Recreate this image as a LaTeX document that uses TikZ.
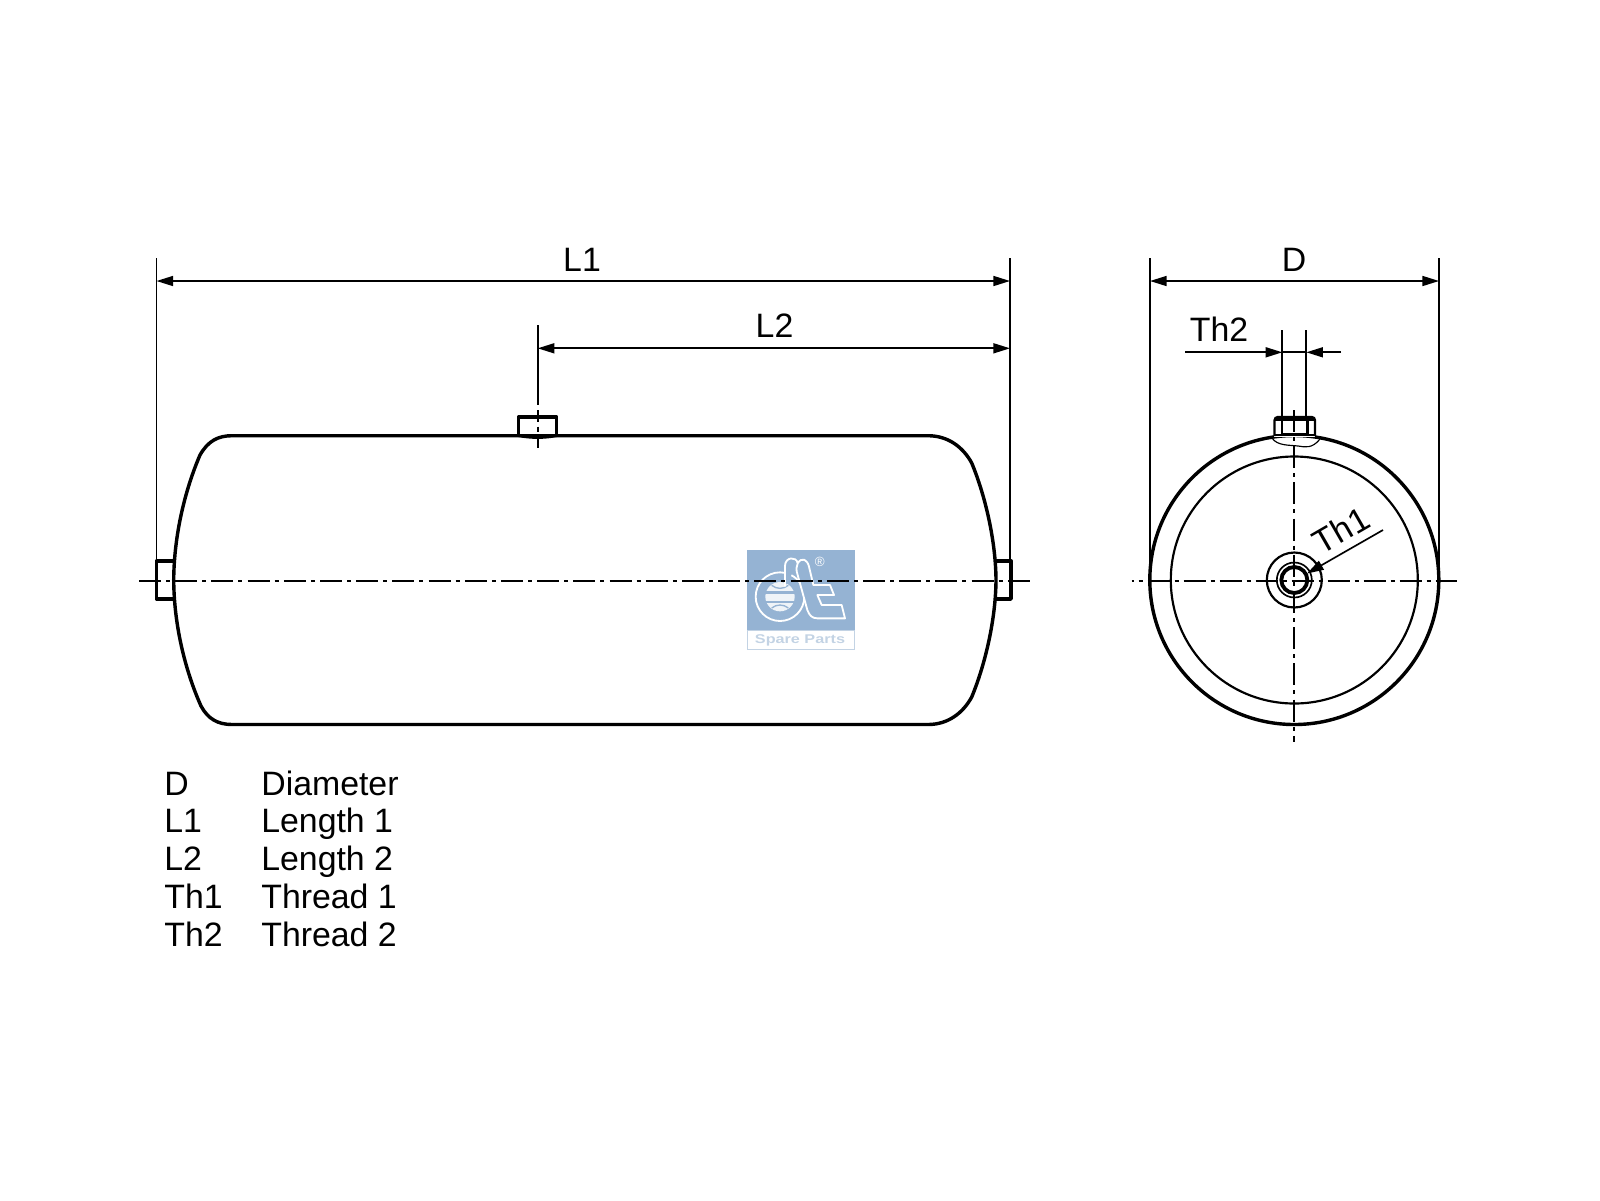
\documentclass[tikz,border=0pt]{standalone}
\usepackage{fontspec}
\usepackage{graphicx}
\setmainfont{Liberation Sans}
\usetikzlibrary{arrows.meta}
\definecolor{logoblue}{HTML}{95B3D3}
\definecolor{logolight}{HTML}{C3D3E4}
\tikzset{
  outline/.style={line width=2.05pt,line join=round},
  thinline/.style={line width=1pt},
  centerline/.style={line width=1.05pt,dash pattern=on 13.2pt off 3pt on 2.4pt off 3.12pt},
  endcenterline/.style={line width=1.05pt,dash pattern=on 13.2pt off 3pt on 2.4pt off 3pt,dash phase=12pt},
  dim/.style={line width=1pt,{Triangle[length=10pt,width=6pt]}-{Triangle[length=10pt,width=6pt]}},
  dimtip/.style={line width=1pt,-{Triangle[length=10pt,width=6pt]}},
  lbl/.style={font=\fontsize{20.3}{24}\selectfont,inner sep=0pt,anchor=base},
  leg/.style={font=\fontsize{20.3}{24}\selectfont,inner sep=0pt,anchor=base west},
  logoline/.style={draw=white,line width=1.1pt,line join=round}
}
\begin{document}
\begin{tikzpicture}[x=0.6pt,y=-0.6pt]
\useasboundingbox (0,0) rectangle (1600,1200);
% logo
\fill[logoblue] (747,550) rectangle (855,630);
\draw[logolight,line width=0.6pt] (747,630) rectangle (854,649);
\begin{scope}[shift={(730,530)},x=0.2pt,y=-0.2pt]
  \draw[logoline] (150,200) circle (73);
  \fill[white!85!logoblue] (150,200) circle (44);
  \fill[logoblue] (106,184) rectangle (194,192);
  \fill[logoblue] (106,212) rectangle (194,220);
  \draw[logoblue,line width=0.8pt] (125,166) .. controls (140,178) and (160,178) .. (175,166);
  \draw[logoblue,line width=0.8pt] (125,234) .. controls (140,222) and (160,222) .. (175,234);
  \draw[logoline,fill=logoblue] (165,170) -- (165,108) .. controls (165,80) and (200,78) .. (203,100)
     .. controls (215,80) and (232,88) .. (237,110) -- (250,165) -- (300,165) -- (312,195) -- (262,195)
     -- (275,225) -- (335,225) -- (345,265) -- (262,265) .. controls (245,265) and (238,255) .. (232,240)
     -- (203,135) .. controls (198,120) and (198,110) .. (203,100);
  \node[inner sep=0pt,text=white,font=\fontsize{8}{9}\selectfont] (reg) at (269,97) {®};
\end{scope}
\node[inner sep=0pt,text=logolight,font=\bfseries\fontsize{7.6}{9}\selectfont] (spare) at (800,640) {\scalebox{1.28}[1]{Spare Parts}};
% coordinates
\coordinate (L1a) at (156.5,258); \coordinate (L1b) at (156.5,561);
\coordinate (R1a) at (1010,258); \coordinate (R1b) at (1010,561);
\coordinate (L1l) at (156.5,281); \coordinate (L1r) at (1010,281);
\coordinate (L2a) at (537.7,325); \coordinate (L2b) at (537.7,405);
\coordinate (L2l) at (537.7,348.3); \coordinate (L2r) at (1010,348.3);
\coordinate (L2c1) at (537.7,410); \coordinate (L2c2) at (537.7,453);
\coordinate (Da) at (1150,258); \coordinate (Db) at (1150,580);
\coordinate (Ea) at (1439,258); \coordinate (Eb) at (1439,580);
\coordinate (Dl) at (1150,281); \coordinate (Dr) at (1439,281);
\coordinate (T2a) at (1282.3,330); \coordinate (T2b) at (1282.3,417);
\coordinate (T2c) at (1306.3,330); \coordinate (T2d) at (1306.3,417);
\coordinate (T2l) at (1185,352.3); \coordinate (T2lt) at (1282.3,352.3);
\coordinate (T2r) at (1341,352.3); \coordinate (T2rt) at (1306.3,352.3);
\coordinate (T1a) at (1383,530); \coordinate (T1t) at (1307,573.5);
\coordinate (C1a) at (139,581); \coordinate (C1b) at (1030,581);
\coordinate (C2a) at (1131.5,581); \coordinate (C2b) at (1457,581);
\coordinate (C3a) at (1294.3,410); \coordinate (C3b) at (1294.3,742);
\coordinate (V) at (1294.3,580);
% body
\draw[outline] (232,435.7) -- (928,435.7) .. controls (948,435.7) and (963,447) .. (971.7,463)
  .. controls (985,495) and (995.7,540) .. (996,580)
  .. controls (995.7,620) and (985,665) .. (971.7,697)
  .. controls (963,713) and (948,724.5) .. (928,724.5) -- (232,724.5)
  .. controls (218,724.5) and (208,719) .. (201,706)
  .. controls (185,670) and (174,625) .. (173.7,580)
  .. controls (174,535) and (185,490) .. (200,455)
  .. controls (208,441) and (218,435.7) .. (232,435.7) -- cycle;
% stubs
\draw[outline] (173.7,561) -- (156.5,561) -- (156.5,599) -- (173.7,599);
\draw[outline] (996,561) -- (1011,561) -- (1011,599) -- (996,599);
\draw[outline] (518.5,435.5) -- (518.5,417) -- (556.7,417) -- (556.7,435.5);
\draw[line width=1.2pt] (518.5,436) .. controls (530,438.5) and (545,438.5) .. (556.7,436);
% end view
\draw[outline] (V) circle (144.5);
\draw[line width=1.3pt] (V) circle (123.5);
\draw[line width=1.3pt] (V) circle (27.5);
\draw[line width=1pt] (V) circle (17.5);
\draw[line width=2.3pt] (V) circle (13);
% fitting
\fill[white] (1274,417) rectangle (1315,437);
\draw[line width=1.4pt,rounded corners=2pt] (1274.5,436) -- (1274.5,417) -- (1315,417) -- (1315,436);
\draw[line width=2.8pt] (1275,419) -- (1315,419);
\draw[line width=1.7pt] (1282,419) -- (1282,434);
\draw[line width=1.7pt] (1307.3,419) -- (1307.3,434);
\draw[line width=1pt] (1282,434) -- (1307.3,434);
\draw[line width=1.2pt] (1274.5,435) -- (1315,435);
\draw[line width=0.7pt] (1272,438) .. controls (1277,446) and (1290,445) .. (1298,446) .. controls (1305,447) and (1312,449) .. (1320,439);
% centre lines
\draw[centerline] (C1a) -- (C1b);
\draw[endcenterline] (C2a) -- (C2b);
\draw[centerline] (C3a) -- (C3b);
% dimensions
\draw[thinline] (L1a) -- (L1b);
\draw[thinline] (R1a) -- (R1b);
\draw[dim] (L1l) -- (L1r);
\draw[thinline] (L2a) -- (L2b);
\draw[thinline,dash pattern=on 7pt off 3pt on 3pt off 3pt] (L2c1) -- (L2c2);
\draw[dim] (L2l) -- (L2r);
\draw[thinline] (Da) -- (Db);
\draw[thinline] (Ea) -- (Eb);
\draw[dim] (Dl) -- (Dr);
\draw[thinline] (T2a) -- (T2b);
\draw[thinline] (T2c) -- (T2d);
\draw[thinline] (T2lt) -- (T2rt);
\draw[dimtip] (T2l) -- (T2lt);
\draw[dimtip] (T2r) -- (T2rt);
\draw[dimtip] (T1a) -- (T1t);
% labels
\node[lbl] (tL1) at (582,271.5) {L1};
\node[lbl] (tL2) at (774.5,337.5) {L2};
\node[lbl] (tD) at (1294,271.5) {D};
\node[lbl] (tTh2) at (1219,341.6) {Th2};
\node[font=\fontsize{20.3}{24}\selectfont,inner sep=0pt,rotate=30] (tTh1) at (1341,530) {Th1};
\node[leg] (k1) at (164,795) {D};   \node[leg] (v1) at (261,795) {Diameter};
\node[leg] (k2) at (164,832.7) {L1};  \node[leg] (v2) at (261,832.7) {Length 1};
\node[leg] (k3) at (164,870.6) {L2};  \node[leg] (v3) at (261,870.6) {Length 2};
\node[leg] (k4) at (164,908.3) {Th1}; \node[leg] (v4) at (261,908.3) {Thread 1};
\node[leg] (k5) at (164,946) {Th2}; \node[leg] (v5) at (261,946) {Thread 2};
\end{tikzpicture}
\end{document}
